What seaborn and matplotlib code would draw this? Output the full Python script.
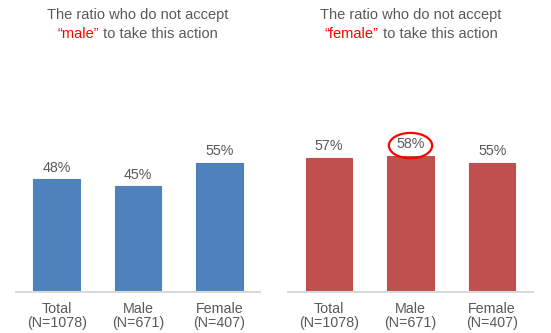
import matplotlib
matplotlib.use("Agg")
import matplotlib.pyplot as plt
import seaborn as sns
import pandas as pd
from matplotlib.patches import Ellipse

categories = ["Total", "Male", "Female"]
sample_sizes = ["(N=1078)", "(N=671)", "(N=407)"]
male_action = [48, 45, 55]
female_action = [57, 58, 55]
title_line1 = "The ratio who do not accept"
title_words = ["\u201cmale\u201d", "\u201cfemale\u201d"]
title_rest = " to take this action"

sns.set_theme(style="white")
plt.rcParams["font.family"] = ["Liberation Sans", "DejaVu Sans"]

GRAY = "#595959"
fig = plt.figure(figsize=(5.51, 3.33), dpi=100)
axL = fig.add_axes([16/551, 41/333, 244/551, 235/333])
axR = fig.add_axes([288/551, 41/333, 245/551, 235/333])

ticklabels = [f"{c}\n{n}" for c, n in zip(categories, sample_sizes)]

for ax, vals, col in [(axL, male_action, "#4F81BD"), (axR, female_action, "#C0504D")]:
    df = pd.DataFrame({"cat": categories, "val": vals})
    sns.barplot(data=df, x="cat", y="val", color=col, saturation=1, width=0.57,
                edgecolor=col, linewidth=0.8, ax=ax)
    ax.set_xlim(-0.5, 2.5)
    ax.set_ylim(0, 100)
    ax.set_xlabel("")
    ax.set_ylabel("")
    ax.set_yticks([])
    ax.set_xticks(range(3))
    ax.set_xticklabels(ticklabels, fontsize=10.3, color=GRAY, linespacing=1.05)
    ax.tick_params(axis="x", length=0, pad=7)
    for s in ["top", "right", "left"]:
        ax.spines[s].set_visible(False)
    ax.spines["bottom"].set_color("#D9D9D9")
    ax.spines["bottom"].set_linewidth(1.5)
    for i, v in enumerate(vals):
        ax.text(i, v + 2, f"{v}%", ha="center", va="bottom", fontsize=10.3, color=GRAY)

# ellipse around highlighted value
axR.add_patch(Ellipse((1, 62.3), 0.53, 10.8, fill=False, edgecolor="#FF0000", linewidth=1.6, clip_on=False))

# titles with colored word
fig.canvas.draw()
renderer = fig.canvas.get_renderer()
for cx, word in [(138/551, title_words[0]), (411/551, title_words[1])]:
    fig.text(cx, 1 - 15/333, title_line1, ha="center", va="center", fontsize=10.5, color=GRAY)
    t1 = fig.text(0, 0, word, fontsize=10.5, color="#FF0000")
    t2 = fig.text(0, 0, title_rest, fontsize=10.5, color=GRAY)
    w1 = t1.get_window_extent(renderer).width / fig.bbox.width
    w2 = t2.get_window_extent(renderer).width / fig.bbox.width
    x0 = cx - (w1 + w2) / 2
    y = 1 - 34/333
    t1.set_position((x0, y)); t1.set_va("center")
    t2.set_position((x0 + w1, y)); t2.set_va("center")

fig.savefig("out.png", dpi=100)
